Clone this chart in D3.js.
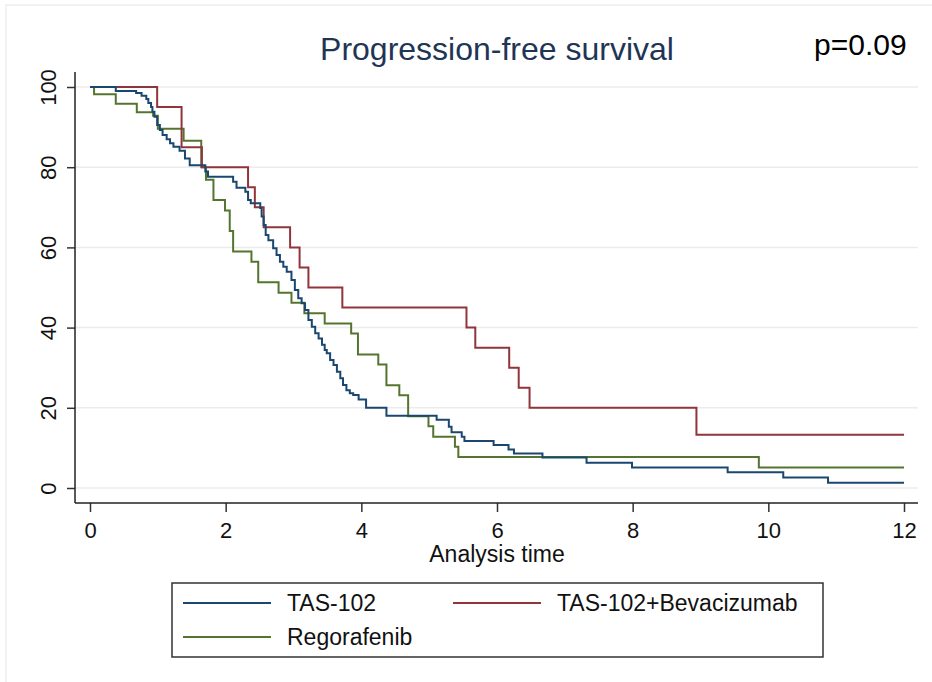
<!DOCTYPE html>
<html>
<head>
    <meta charset="UTF-8">
    <style>
        *{
            margin: 0;
            padding: 0;
        }
        body{
            background-color: #fff;
            width: 932px;
            height: 682px;
            overflow: hidden;
        }
        #chart{
            background-color: #fff;
            font-family: "Liberation Sans", Arial, sans-serif;
        }
        .grid line{
            stroke: #ececec;
            stroke-width: 1.5;
        }
        .axis text{
            font-size: 22px;
            fill: #111;
        }
        .axis line{
            stroke: #333;
            stroke-width: 1.5;
        }
        .km{
            fill: none;
            stroke-width: 2;
        }
    </style>
    <script src="https://d3js.org/d3.v7.min.js"></script>
    <title>Progression-free survival</title>
</head>

<body>
<svg id="chart" width="932" height="682"></svg>
<script>
    // Kaplan-Meier steps (time in months, % progression-free)
    var tasTime = [0, 0.38, 0.68, 0.76, 0.83, 0.86, 0.90, 0.92, 0.95, 0.99, 1.03, 1.07, 1.13, 1.18, 1.23,
        1.32, 1.40, 1.47, 1.70, 1.74, 2.11, 2.16, 2.29, 2.33, 2.37, 2.51, 2.53, 2.56, 2.59, 2.63, 2.70,
        2.75, 2.80, 2.85, 2.90, 2.97, 3.02, 3.07, 3.12, 3.17, 3.22, 3.27, 3.32, 3.37, 3.42, 3.46, 3.49,
        3.54, 3.59, 3.64, 3.69, 3.73, 3.78, 3.83, 3.88, 3.96, 4.07, 4.37, 5.11, 5.29, 5.33, 5.48, 5.52,
        5.95, 6.17, 6.25, 6.67, 7.32, 7.99, 9.40, 10.22, 10.88, 12];
    var tasSurv = [100, 99.0, 98.5, 97.8, 97.0, 96.0, 95.0, 93.8, 92.6, 90.5, 89.3, 88.0, 87.0, 86.0, 85.1,
        84.1, 82.2, 80.5, 78.9, 77.6, 76.4, 74.9, 73.9, 71.8, 71.0, 69.8, 67.7, 65.6, 63.1, 61.8, 59.8,
        58.1, 56.4, 55.2, 53.9, 51.9, 49.4, 47.3, 46.1, 44.4, 41.9, 40.2, 38.6, 37.3, 35.7, 34.4, 33.6,
        31.9, 30.7, 29.0, 27.4, 25.7, 24.4, 23.6, 23.2, 22.1, 20.0, 18.0, 17.0, 15.3, 13.9, 12.8, 11.7,
        10.7, 9.6, 8.6, 7.6, 6.3, 5.1, 3.9, 2.6, 1.3, 1.3];

    var bevTime = [0, 0.99, 1.35, 1.65, 2.33, 2.43, 2.56, 2.95, 3.09, 3.22, 3.72, 5.55, 5.68, 6.18, 6.32, 6.48, 8.94, 12];
    var bevSurv = [100, 95, 85, 80, 75, 70, 65, 60, 55, 50, 45, 40, 35, 30, 25, 20, 13.3, 13.3];

    var regTime = [0, 0.06, 0.38, 0.69, 0.93, 1.00, 1.38, 1.64, 1.71, 1.82, 1.99, 2.06, 2.11, 2.38, 2.48,
        2.78, 2.97, 3.16, 3.46, 3.85, 3.95, 4.25, 4.37, 4.56, 4.69, 4.99, 5.06, 5.38, 5.43, 9.86, 12];
    var regSurv = [100, 98.2, 95.8, 93.7, 92.8, 89.6, 86.6, 80.0, 76.9, 71.8, 69.2, 64.1, 59.0, 56.4, 51.3,
        48.7, 46.2, 43.6, 41.0, 38.5, 33.3, 30.8, 25.6, 23.1, 17.9, 15.4, 12.8, 10.3, 7.7, 5.1, 5.1];

    var seriesNames = ["TAS-102", "TAS-102+Bevacizumab", "Regorafenib"];
    var seriesColors = ["#1a476f", "#90353b", "#55752f"];
    var xTicks = [0, 2, 4, 6, 8, 10, 12];
    var yTicks = [0, 20, 40, 60, 80, 100];

    var svg = d3.select("#chart");

    // faint outer frame
    svg.append("rect")
        .attr("x", 6).attr("y", 5)
        .attr("width", 940).attr("height", 690)
        .attr("fill", "none")
        .attr("stroke", "#eeeeee")
        .attr("stroke-width", 1.5);

    var plotLeft = 75, plotRight = 918, plotTop = 72, plotBottom = 503;

    var x = d3.scaleLinear().domain([0, 12]).range([90, 904]),
        y = d3.scaleLinear().domain([0, 100]).range([488, 87]);

    // gridlines
    svg.append("g")
        .attr("class", "grid")
        .selectAll("line")
        .data(yTicks)
        .enter()
        .append("line")
        .attr("x1", plotLeft).attr("x2", plotRight)
        .attr("y1", function(d) { return y(d); })
        .attr("y2", function(d) { return y(d); });

    // y axis
    var yAxis = svg.append("g")
        .attr("class", "axis")
        .attr("transform", "translate(" + plotLeft + ",0)")
        .call(d3.axisLeft(y).tickValues(yTicks).tickSize(8).tickFormat(d3.format("d")));
    yAxis.select(".domain").remove();
    yAxis.selectAll("text")
        .attr("x", 0).attr("dy", 0)
        .attr("text-anchor", "middle")
        .attr("transform", "translate(-19,0) rotate(-90)");

    // x axis
    var xAxis = svg.append("g")
        .attr("class", "axis")
        .attr("transform", "translate(0," + plotBottom + ")")
        .call(d3.axisBottom(x).tickValues(xTicks).tickSize(9).tickPadding(10).tickFormat(d3.format("d")));
    xAxis.select(".domain").remove();

    svg.append("line")
        .attr("x1", plotLeft).attr("x2", plotLeft)
        .attr("y1", plotTop).attr("y2", plotBottom)
        .attr("stroke", "#222").attr("stroke-width", 1.5);
    svg.append("line")
        .attr("x1", plotLeft).attr("x2", plotRight)
        .attr("y1", plotBottom).attr("y2", plotBottom)
        .attr("stroke", "#222").attr("stroke-width", 1.5);

    // curves
    var series = [
        {times: tasTime, surv: tasSurv},
        {times: bevTime, surv: bevSurv},
        {times: regTime, surv: regSurv}
    ];

    var line = d3.line()
        .x(function(d) { return x(d[0]); })
        .y(function(d) { return y(d[1]); })
        .curve(d3.curveStepAfter);

    // draw green first, then red, blue on top
    [2, 1, 0].forEach(function(i) {
        var pts = series[i].times.map(function(t, j) { return [t, series[i].surv[j]]; });
        svg.append("path")
            .datum(pts)
            .attr("class", "km")
            .attr("stroke", seriesColors[i])
            .attr("d", line);
    });

    // titles
    svg.append("text")
        .attr("x", 497).attr("y", 60)
        .attr("text-anchor", "middle")
        .attr("font-size", "32px")
        .attr("fill", "#1f3556")
        .text("Progression-free survival");

    svg.append("text")
        .attr("x", 814).attr("y", 55)
        .attr("font-size", "30px")
        .attr("fill", "#000")
        .text("p=0.09");

    svg.append("text")
        .attr("x", 497).attr("y", 562)
        .attr("text-anchor", "middle")
        .attr("font-size", "23px")
        .attr("fill", "#111")
        .text("Analysis time");

    // legend
    var legend = svg.append("g");
    legend.append("rect")
        .attr("x", 172).attr("y", 583)
        .attr("width", 651).attr("height", 74)
        .attr("fill", "#fff")
        .attr("stroke", "#333")
        .attr("stroke-width", 1.5);

    var legendPos = [
        {lx: 183, ly: 603},
        {lx: 453, ly: 603},
        {lx: 183, ly: 637}
    ];

    legendPos.forEach(function(p, i) {
        legend.append("line")
            .attr("x1", p.lx).attr("x2", p.lx + 88)
            .attr("y1", p.ly).attr("y2", p.ly)
            .attr("stroke", seriesColors[i])
            .attr("stroke-width", 2);
        legend.append("text")
            .attr("x", p.lx + 104).attr("y", p.ly + 8)
            .attr("font-size", "23px")
            .attr("fill", "#111")
            .text(seriesNames[i]);
    });
</script>
</body>
</html>
